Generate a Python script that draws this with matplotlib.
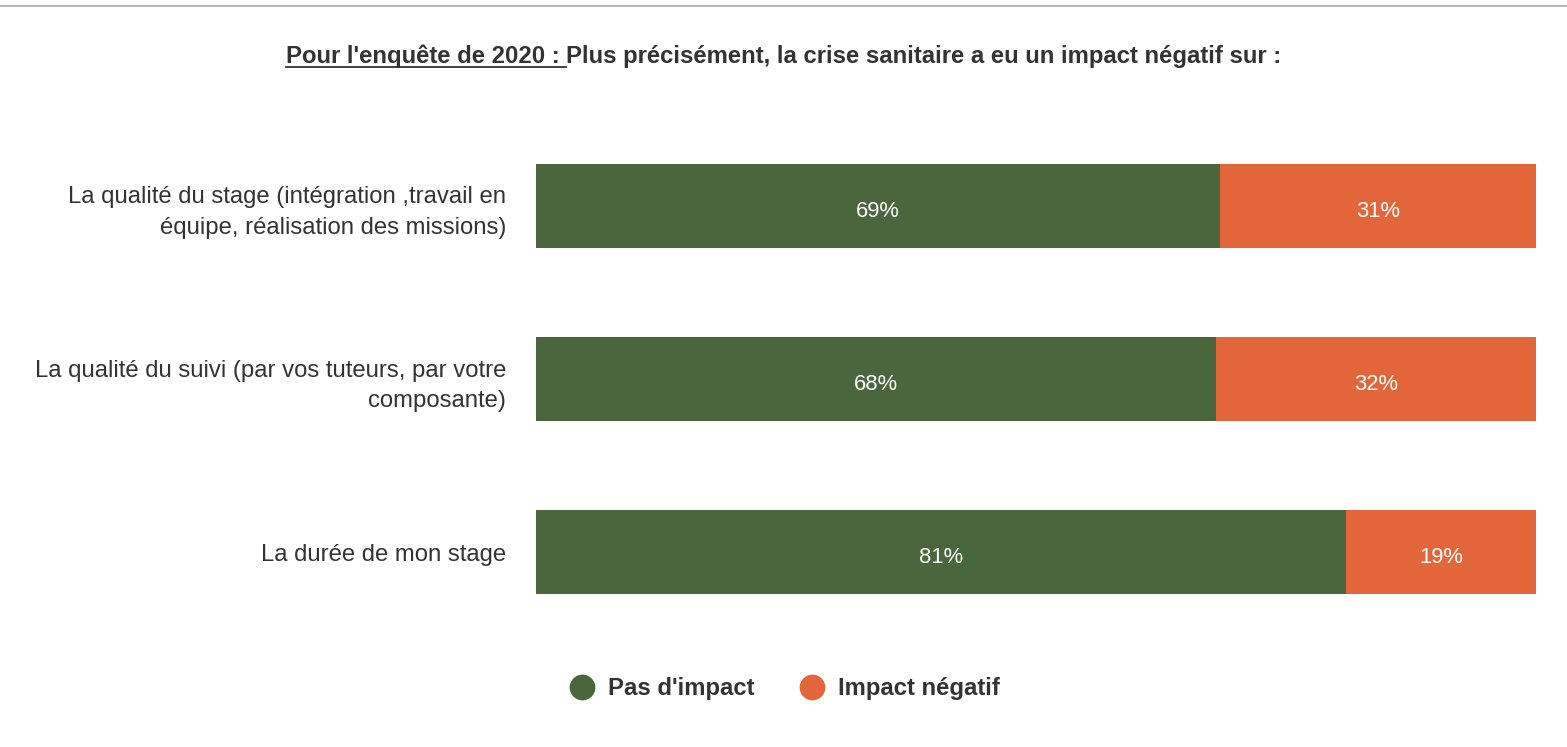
import matplotlib.pyplot as plt
from matplotlib.lines import Line2D

plt.rcParams['font.family'] = ['Liberation Sans', 'DejaVu Sans']

categories = ["La qualité du stage (intégration ,travail en\néquipe, réalisation des missions)",
              "La qualité du suivi (par vos tuteurs, par votre\ncomposante)",
              "La durée de mon stage"]
pas_impact = [68.4, 68, 81]
impact_negatif = [31.6, 32, 19]
labels_pas = ["69%", "68%", "81%"]
labels_neg = ["31%", "32%", "19%"]
series_names = ["Pas d'impact", "Impact négatif"]
green = '#4a663d'
orange = '#e2663a'
txt = '#333333'

W, H = 1567, 747
fig = plt.figure(figsize=(W / 100, H / 100), dpi=100)
ax = fig.add_axes([536 / W, 1 - 638.5 / H, 1000 / W, 519 / H])

y = range(len(categories))
ax.barh(y, pas_impact, height=0.486, color=green)
ax.barh(y, impact_negatif, left=pas_impact, height=0.486, color=orange)
dy = 0.018  # petit décalage vers le bas des étiquettes
for i in y:
    ax.text(pas_impact[i] / 2, i + dy, labels_pas[i], color='white',
            ha='center', va='center_baseline', fontsize=15.8)
    ax.text(pas_impact[i] + impact_negatif[i] / 2, i + dy, labels_neg[i],
            color='white', ha='center', va='center_baseline', fontsize=15.8)

ax.set_xlim(0, 100)
ax.set_ylim(2.5, -0.5)
ax.set_yticks(list(y))
ax.set_yticklabels(categories, fontsize=17.2, color=txt, linespacing=1.5)
ax.tick_params(axis='y', length=0, pad=21.6)
ax.set_xticks([])
for s in ax.spines.values():
    s.set_visible(False)

# ligne grise en haut
fig.add_artist(Line2D([0, 1], [1 - 6 / H, 1 - 6 / H], color='#aaaaaa', lw=1.2))

# titre avec partie soulignée
part1 = "Pour l'enquête de 2020 : "
part2 = "Plus précisément, la crise sanitaire a eu un impact négatif sur :"
ty = 1 - 56 / H
r = fig.canvas.get_renderer()
t1 = fig.text(0, ty, part1, fontsize=17.2, fontweight='bold', color=txt, va='center')
t2 = fig.text(0, ty, part2, fontsize=17.2, fontweight='bold', color=txt, va='center')
b1 = t1.get_window_extent(r)
b2 = t2.get_window_extent(r)
x0 = (W - b1.width - b2.width) / 2
t1.set_x(x0 / W)
t2.set_x((x0 + b1.width) / W)
uy = 1 - 67 / H
fig.add_artist(Line2D([x0 / W, (x0 + b1.width) / W], [uy, uy], color=txt, lw=1.3))

handles = [Line2D([], [], marker='o', ls='', ms=17.5, color=green),
           Line2D([], [], marker='o', ls='', ms=17.5, color=orange)]
leg = fig.legend(handles, series_names, loc='center', bbox_to_anchor=(0.5, 1 - 689 / H),
                 ncol=2, frameon=False, prop={'size': 17.2, 'weight': 'bold'},
                 handletextpad=0.5, columnspacing=1.8, handlelength=1.2)
for t in leg.get_texts():
    t.set_color(txt)

fig.savefig('out.png', dpi=100)
